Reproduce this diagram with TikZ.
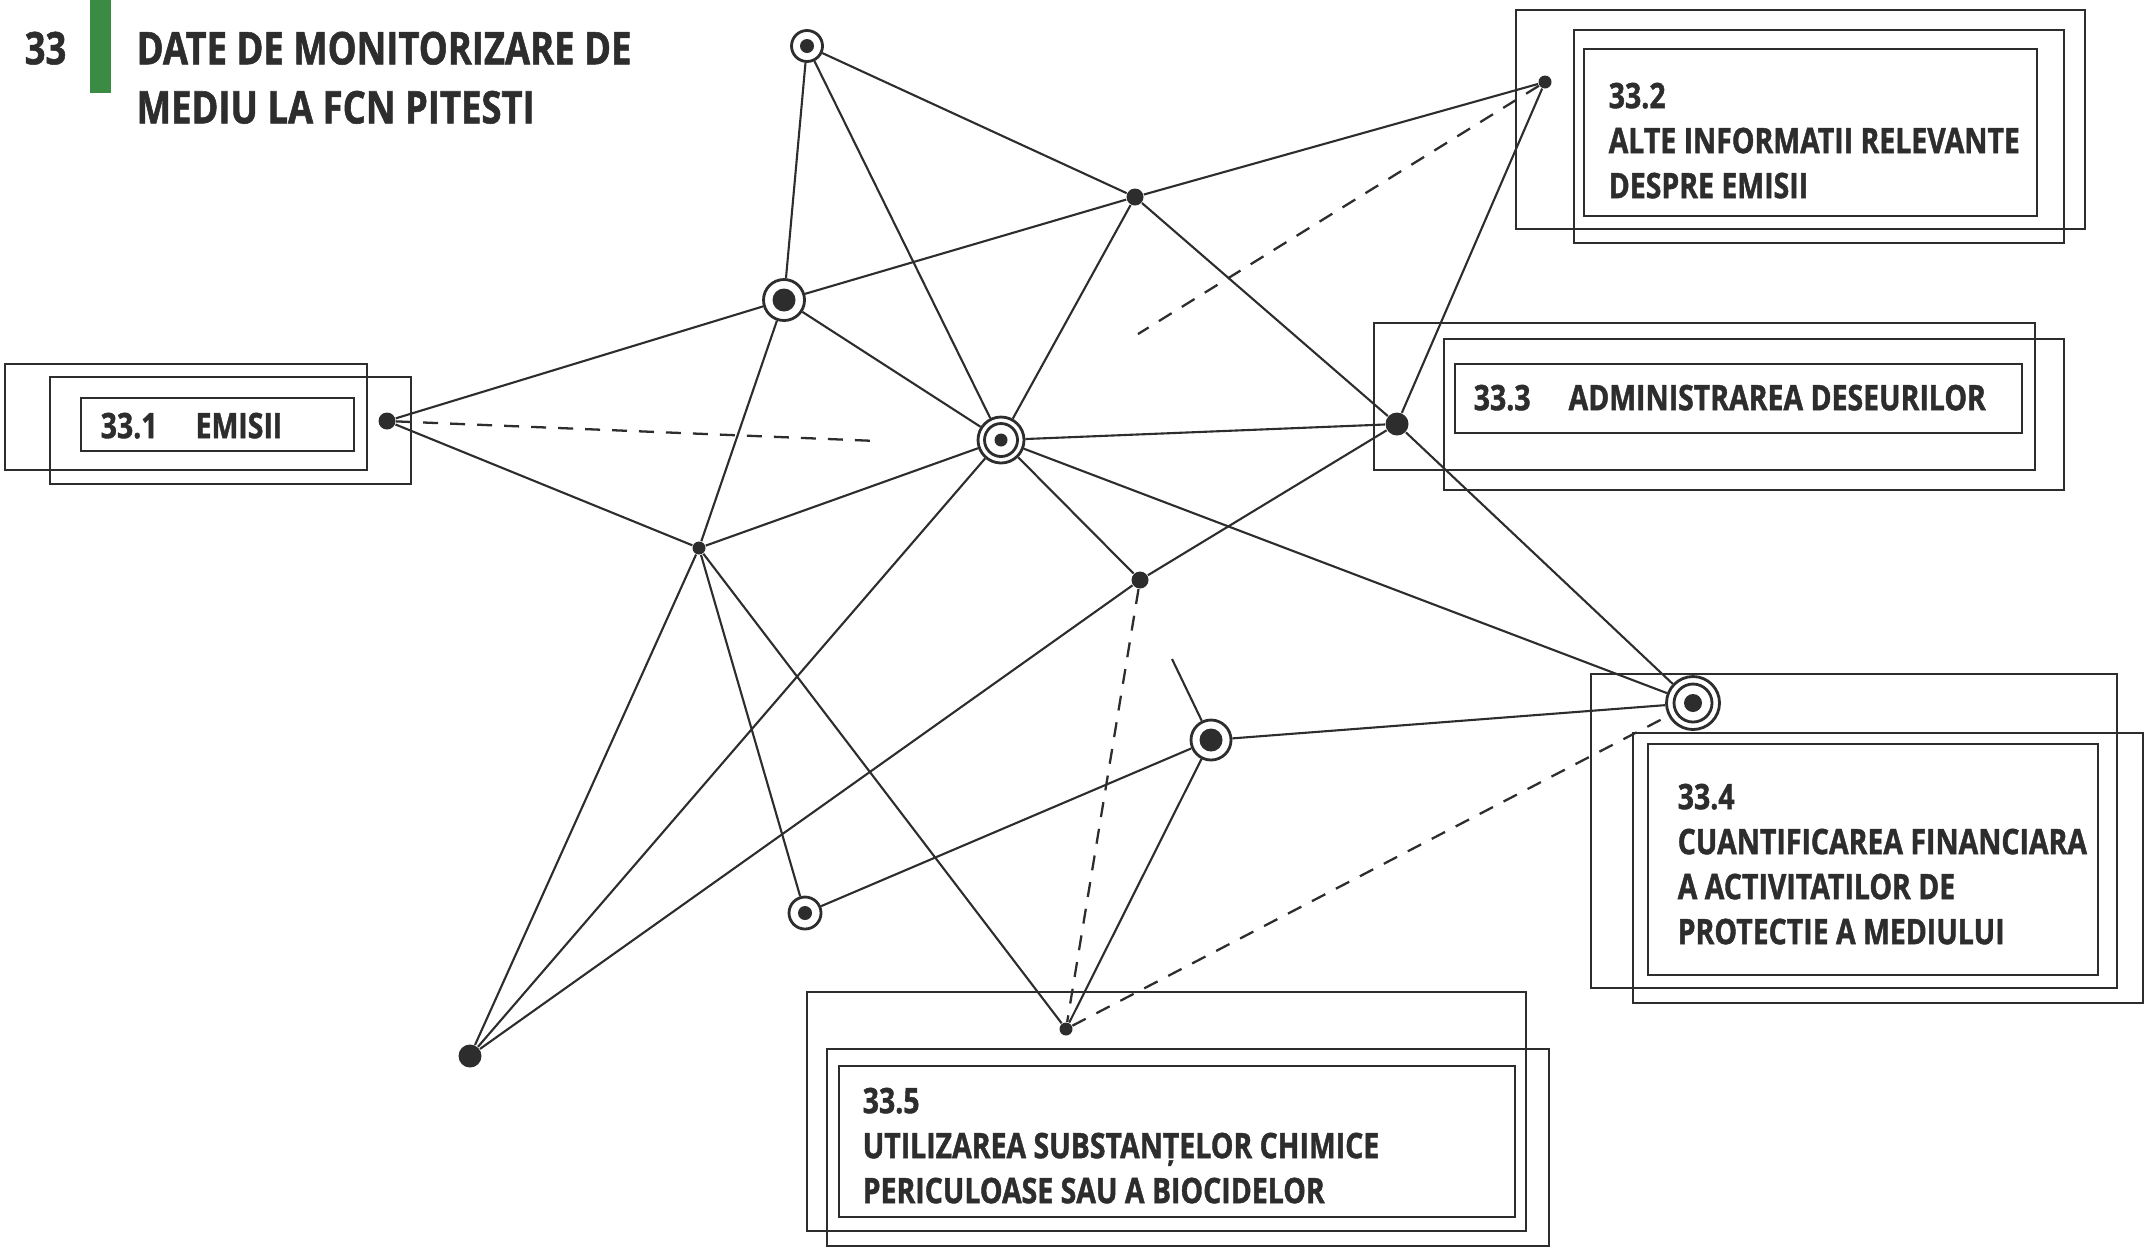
\documentclass[tikz,border=0pt]{standalone}
\usepackage{fontspec}
\setmainfont{Open Sans}[FakeStretch=0.81, BoldFeatures={FakeBold=1.2}]
\definecolor{ink}{RGB}{45,45,45}
\definecolor{fcngreen}{RGB}{58,140,68}

\begin{document}
\begin{tikzpicture}[x=0.1mm, y=-0.1mm,
  edge/.style={draw=ink, line width=0.6pt},
  link/.style={draw=ink, line width=0.65pt, dash pattern=on 1.5mm off 1.2mm},
  frame/.style={draw=ink, line width=0.8pt},
  dot/.style={circle, fill=ink, inner sep=0pt, minimum size=#1},
  ringdot/.style 2 args={circle, draw=ink, fill=white, line width=0.8pt, inner sep=0pt, minimum size=#1,
    path picture={\fill[ink] (path picture bounding box.center) circle (#2);}},
  target/.style n args={3}{circle, draw=ink, fill=white, line width=0.8pt, inner sep=0pt, minimum size=#1,
    path picture={\draw[ink, line width=0.8pt] (path picture bounding box.center) circle (#2);
      \fill[ink] (path picture bounding box.center) circle (#3);}},
  titletext/.style={inner sep=0pt, text=ink, align=left, font=\bfseries\fontsize{12.8}{16.8}\selectfont},
  boxtext/.style={inner sep=0pt, text=ink, align=left, font=\bfseries\fontsize{10}{12.8}\selectfont}]
\useasboundingbox (0,0) rectangle (2144,1248);
\node[titletext, anchor=north west] (num) at (24,31) {33};
\fill[fcngreen] (90,0) rectangle (111,93);
\node[titletext, anchor=north west] (title) at (136,31) {DATE DE MONITORIZARE DE\\MEDIU LA FCN PITESTI};
\draw[frame] (5,364) rectangle (367,470);
\draw[frame] (50,377) rectangle (411,484);
\draw[frame] (81,398) rectangle (354,451);
\node[boxtext, anchor=north west] (t1) at (100,412) {33.1\hspace{3.8mm}EMISII};
\draw[frame] (1516,10) rectangle (2085,229);
\draw[frame] (1574,30) rectangle (2064,243);
\draw[frame] (1584,49) rectangle (2037,216);
\node[boxtext, anchor=north west] (t2) at (1608,82) {33.2\\ALTE INFORMATII RELEVANTE\\DESPRE EMISII};
\draw[frame] (1374,323) rectangle (2035,470);
\draw[frame] (1444,339) rectangle (2064,490);
\draw[frame] (1455,364) rectangle (2022,433);
\node[boxtext, anchor=north west] (t3) at (1473,384) {33.3\hspace{3.8mm}ADMINISTRAREA DESEURILOR};
\draw[frame] (1591,674) rectangle (2117,988);
\draw[frame] (1633,733) rectangle (2143,1003);
\draw[frame] (1648,744) rectangle (2098,975);
\node[boxtext, anchor=north west] (t4) at (1677,783) {33.4\\CUANTIFICAREA FINANCIARA\\A ACTIVITATILOR DE\\PROTECTIE A MEDIULUI};
\draw[frame] (807,992) rectangle (1526,1231);
\draw[frame] (827,1049) rectangle (1549,1246);
\draw[frame] (839,1066) rectangle (1515,1217);
\node[boxtext, anchor=north west] (t5) at (862,1087) {33.5\\UTILIZAREA SUBSTANȚELOR CHIMICE\\PERICULOASE SAU A BIOCIDELOR};
\node[ringdot={3.1mm}{0.7mm}] (A) at (807,46) {};
\node[ringdot={4.1mm}{1.15mm}] (B) at (784,300) {};
\node[target={4.6mm}{1.65mm}{0.65mm}] (C) at (1001,440) {};
\node[dot=1.7mm] (D) at (1135,197) {};
\node[dot=1.3mm] (E) at (1545,82) {};
\node[dot=2.3mm] (F) at (1397,424) {};
\node[dot=1.7mm] (G) at (387,421) {};
\node[dot=1.3mm] (H) at (699,548) {};
\node[dot=1.7mm] (I) at (1140,580) {};
\node[target={5.3mm}{1.9mm}{0.9mm}] (J) at (1693,703) {};
\node[ringdot={4.0mm}{1.15mm}] (K) at (1211,740) {};
\node[ringdot={3.2mm}{0.7mm}] (L) at (805,913) {};
\node[dot=2.3mm] (M) at (470,1056) {};
\node[dot=1.3mm] (N) at (1066,1029) {};
\coordinate (Kend) at (1172,659);
\coordinate (Gend) at (877,441);
\coordinate (Eend) at (1138,334);
\draw[edge] (A) -- (B);
\draw[edge] (A) -- (C);
\draw[edge] (A) -- (D);
\draw[edge] (B) -- (D);
\draw[edge] (D) -- (E);
\draw[edge] (D) -- (F);
\draw[edge] (D) -- (C);
\draw[edge] (G) -- (B);
\draw[edge] (G) -- (H);
\draw[edge] (B) -- (H);
\draw[edge] (B) -- (C);
\draw[edge] (H) -- (C);
\draw[edge] (C) -- (F);
\draw[edge] (C) -- (I);
\draw[edge] (C) -- (J);
\draw[edge] (C) -- (M);
\draw[edge] (E) -- (F);
\draw[edge] (F) -- (J);
\draw[edge] (F) -- (I);
\draw[edge] (I) -- (M);
\draw[edge] (H) -- (M);
\draw[edge] (H) -- (L);
\draw[edge] (H) -- (N);
\draw[edge] (L) -- (K);
\draw[edge] (K) -- (J);
\draw[edge] (K) -- (N);
\draw[edge] (K) -- (Kend);
\draw[link] (G) -- (Gend);
\draw[link] (E) -- (Eend);
\draw[link] (I) -- (N);
\draw[link] (N) -- (J);
\end{tikzpicture}
\end{document}
